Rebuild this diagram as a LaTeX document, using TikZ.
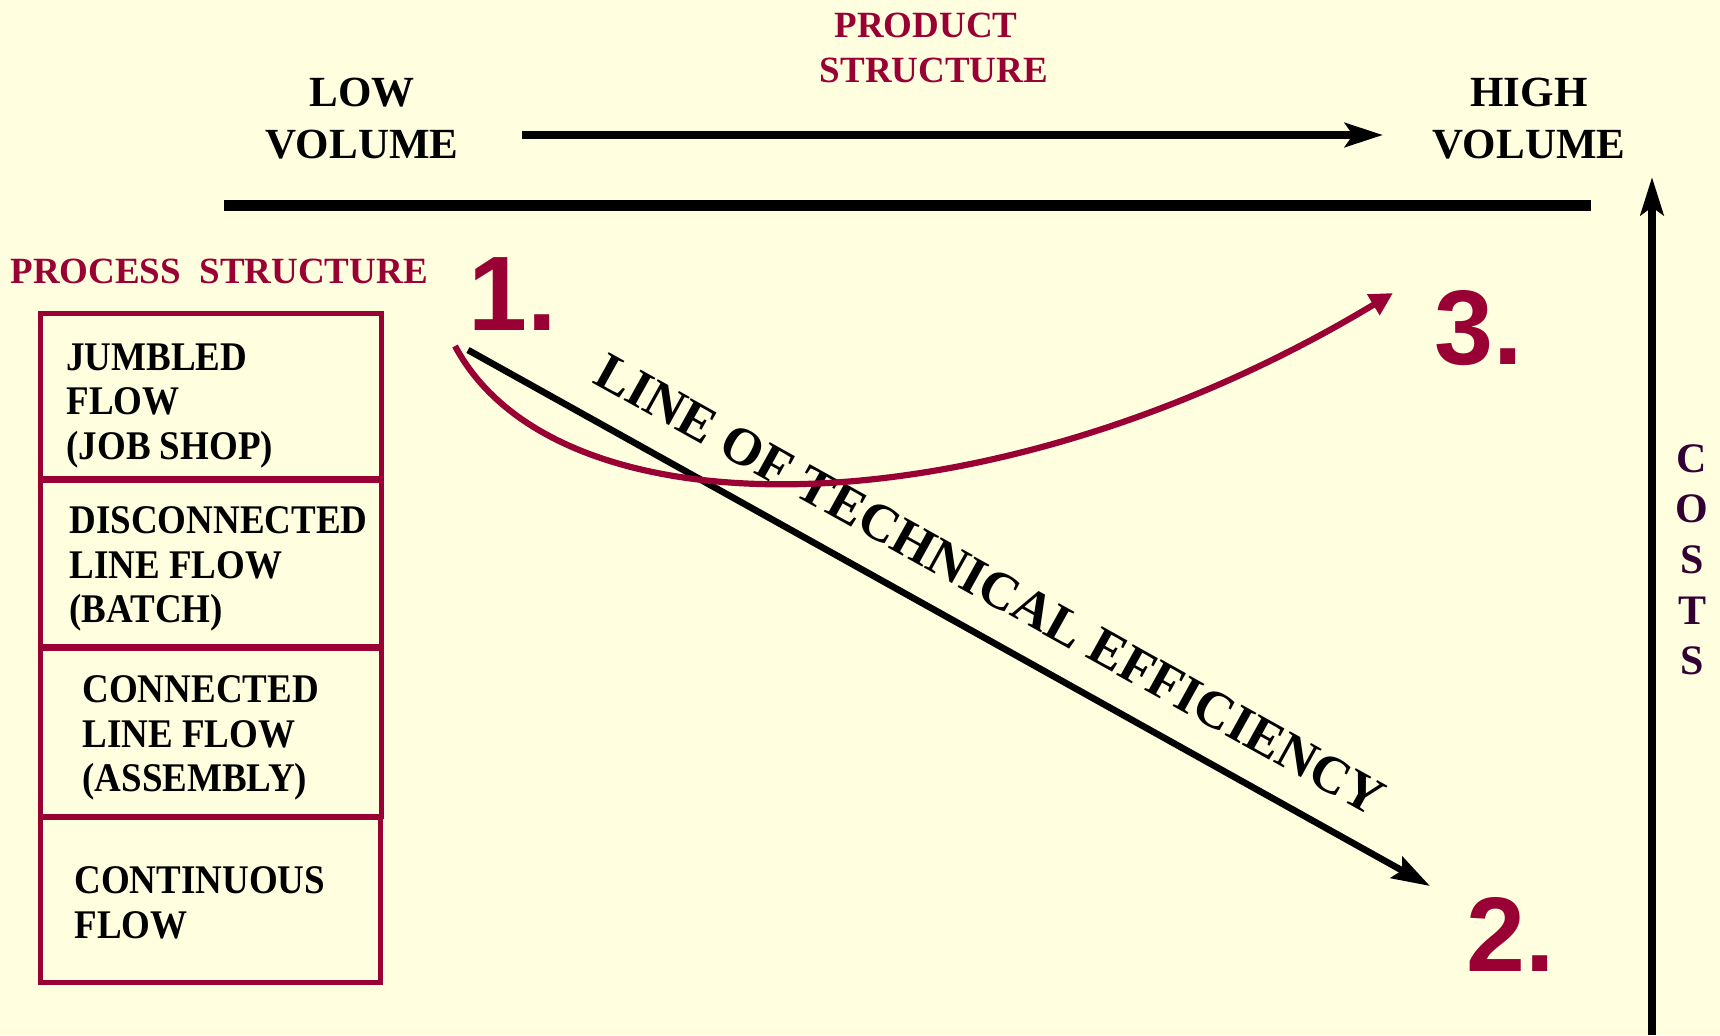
\documentclass[tikz,border=0pt]{standalone}
\usepackage{fontspec}
\usepackage{graphicx}
\setmainfont{Liberation Serif}
\newfontfamily\numfont{Liberation Sans}
\usetikzlibrary{arrows.meta}
\definecolor{bgc}{HTML}{FFFFE0}
\definecolor{crim}{HTML}{990033}
\definecolor{purp}{HTML}{330033}
\newcommand\stackL[1]{\vtop{\halign{##\hfil\cr#1\crcr}}}
\newcommand\stackC[1]{\vtop{\halign{\hfil##\hfil\cr#1\crcr}}}
\newcommand\tallbox[1]{\scalebox{1}[1.1]{#1}}
\begin{document}
\begin{tikzpicture}[x=0.5pt,y=-0.5pt,
  pbox/.style={draw=crim, line width=2.5pt, inner sep=0pt, minimum width=170.25pt},
  boxtxt/.style={font=\fontsize{18.5}{20.45}\selectfont\bfseries, inner sep=0pt, anchor=base west},
  toptxt/.style={font=\fontsize{21.5}{26}\selectfont\bfseries, inner sep=0pt, anchor=base},
  redtxt/.style={font=\fontsize{18.5}{22.5}\selectfont\bfseries, text=crim, inner sep=0pt},
  numtxt/.style={font=\numfont\fontsize{53}{53}\selectfont\bfseries, text=crim, inner sep=0pt, anchor=base},
  costtxt/.style={font=\fontsize{21}{25.35}\selectfont\bfseries, text=purp, inner sep=0pt, anchor=base},
  difftxt/.style={font=\fontsize{26.5}{26.5}\selectfont\bfseries, inner sep=0pt, anchor=base},
  axis/.style={line width=4pt},
  bigtip/.style={-{Stealth[length=19pt,width=12pt,inset=4pt]}}
]
\useasboundingbox (0,0) rectangle (1720,1035);
\fill[bgc] (0,0) rectangle (1720,1035);

% process boxes
\node[pbox, minimum height=82.5pt]  (b1) at (210.75,395.5) {};
\node[pbox, minimum height=83.25pt] (b2) at (210.75,563.25) {};
\node[pbox, minimum height=84pt]    (b3) at (210.75,732) {};
\node[pbox, minimum height=82.75pt] (b4) at (210.5,899.75) {};

\node[boxtxt] (t1) at (66,370) {\tallbox{\stackL{JUMBLED\cr FLOW\cr (JOB SHOP)}}};
\node[boxtxt] (t2) at (69,533) {\tallbox{\stackL{DISCONNECTED\cr LINE FLOW\cr (BATCH)}}};
\node[boxtxt] (t3) at (82,702) {\tallbox{\stackL{CONNECTED\cr LINE FLOW\cr (ASSEMBLY)}}};
\node[boxtxt] (t4) at (74,893) {\tallbox{\stackL{CONTINUOUS\cr FLOW}}};

% top labels
\node[toptxt] (low) at (362,106) {\stackC{LOW\cr VOLUME}};
\node[toptxt] (high) at (1529,106) {\stackC{HIGH\cr VOLUME}};
\node[redtxt, anchor=base] (prodA) at (926,37) {PRODUCT};
\node[redtxt, anchor=base] (prodB) at (934,82) {STRUCTURE};
\node[redtxt, anchor=base west] (proc) at (10,283) {PROCESS\ \ STRUCTURE};

% numbers
\node[numtxt] (n1) at (513,330) {1.};
\node[numtxt] (n3) at (1479,364) {3.};
\node[numtxt] (n2) at (1510.5,971) {2.};

% costs
\node[costtxt] (costs) at (1692,472) {\stackC{C\cr O\cr S\cr T\cr S}};

% axes
\coordinate (ta) at (522,135);
\coordinate (tb) at (1383,135);
\draw[axis, bigtip] (ta) -- (tb);
\coordinate (ha) at (224,205);
\coordinate (hb) at (1591,205);
\draw[line width=5.5pt] (ha) -- (hb);
\coordinate (va) at (1652,1035);
\coordinate (vb) at (1652,177);
\draw[axis, -{Stealth[length=19pt,width=11.5pt,inset=4pt]}] (va) -- (vb);

% line of technical efficiency
\coordinate (da) at (468,350);
\coordinate (db) at (1430,886);
\draw[line width=3.3pt, -{Stealth[length=19pt,width=12pt,inset=3pt]}] (da) -- (db);
\node[difftxt, rotate=-29.1] (lte) at (982,600) {LINE OF TECHNICAL EFFICIENCY};

% red curve
\coordinate (ra) at (455,346);
\coordinate (rb) at (1393,293);
\draw[crim, line width=3.1pt, -{Triangle[length=11.5pt,width=11.5pt]}] (ra) .. controls (560,543) and (1000,530) .. (rb);
\end{tikzpicture}
\end{document}
